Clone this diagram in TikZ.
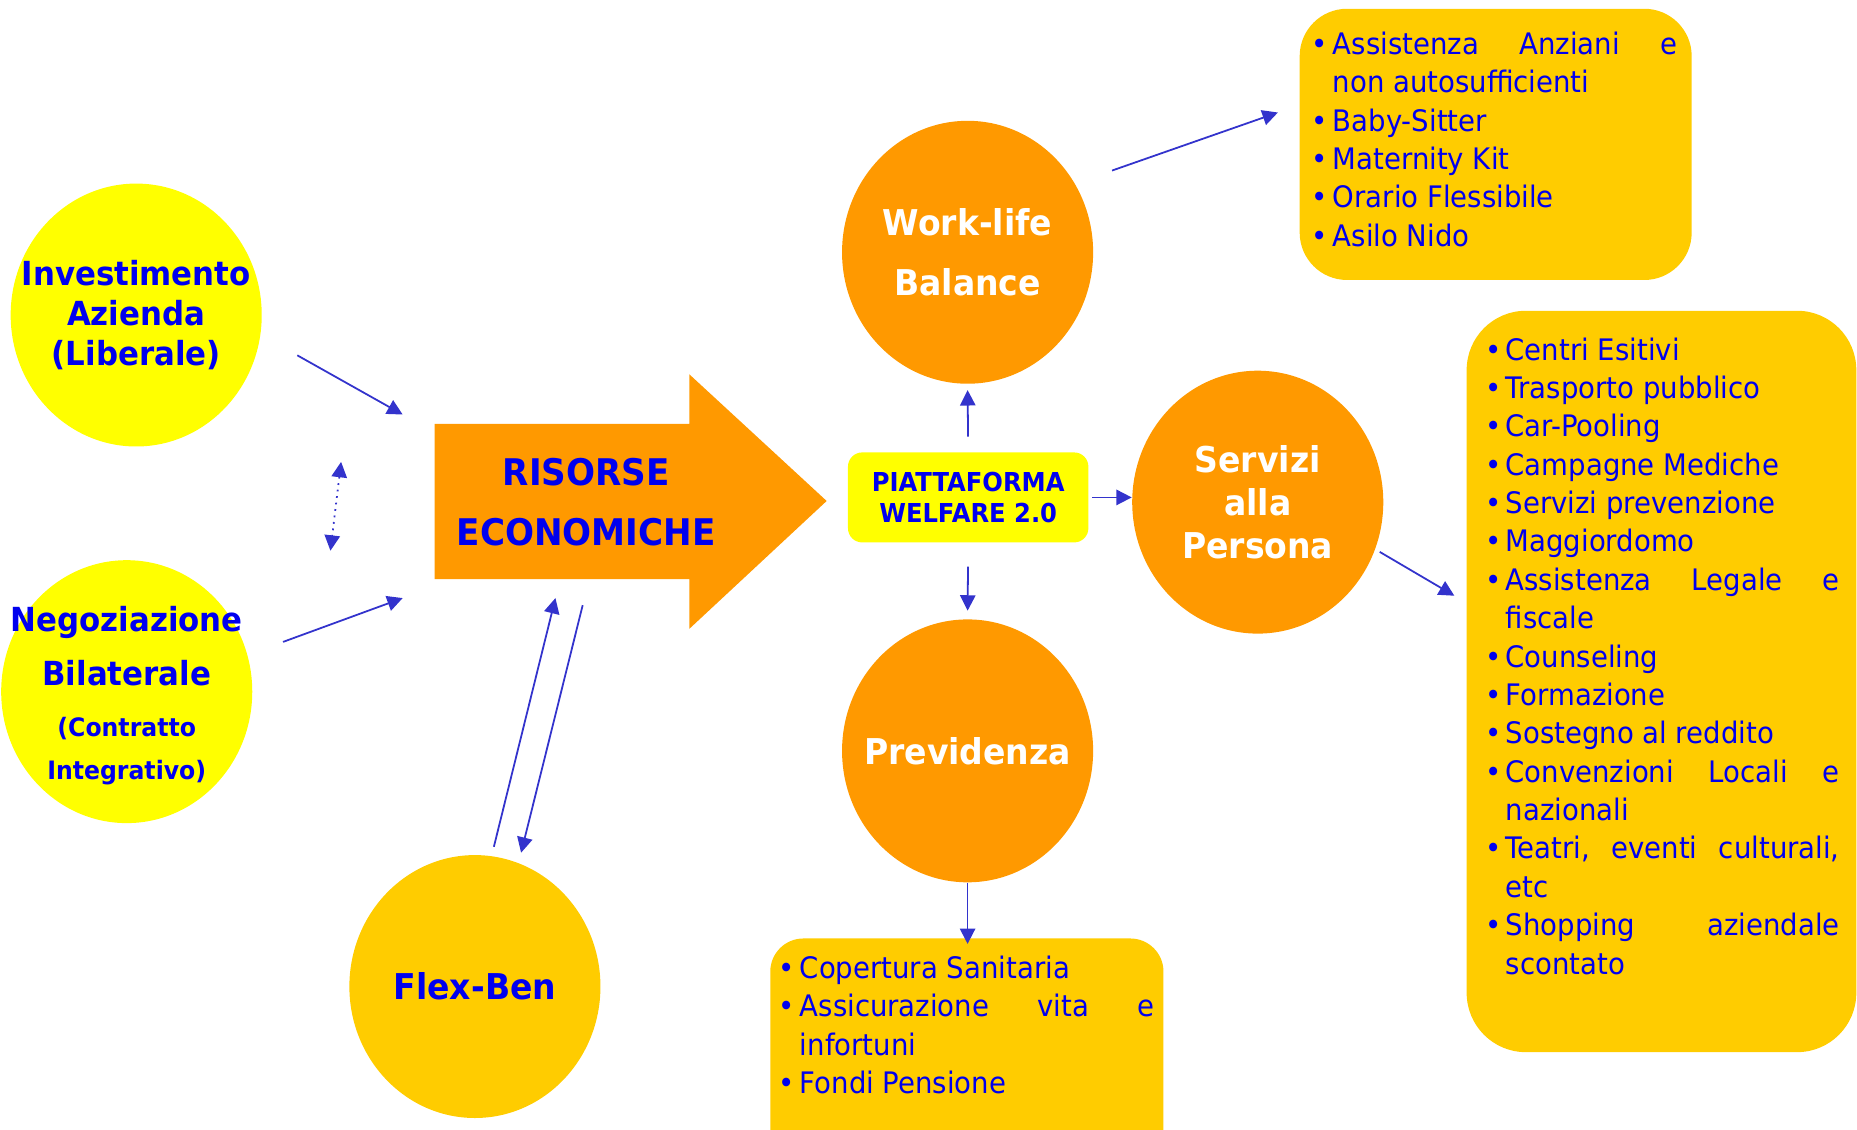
\documentclass[tikz,border=0pt]{standalone}
\usepackage{fontspec}
\setmainfont{DejaVu Sans}[FakeStretch=0.93]
\usetikzlibrary{shapes.geometric,arrows.meta}
\definecolor{cyel}{HTML}{FFFF00}
\definecolor{cgold}{HTML}{FFCC00}
\definecolor{corange}{HTML}{FF9900}
\definecolor{ctext}{HTML}{0000EE}
\definecolor{carrow}{HTML}{3333CC}
\newcommand\wbul[2]{\par\hangindent=#1\hangafter=1\noindent\strut\makebox[#1][l]{\textbullet}#2\par}
\begin{document}
\begin{tikzpicture}[x=0.5pt,y=-0.5pt,
  circ/.style={ellipse, inner sep=0pt, minimum width=106pt, minimum height=111pt},
  listbox/.style={rectangle, anchor=north west, inner sep=0pt, fill=cgold},
  listtext/.style={anchor=north west, inner sep=0pt, text=ctext},
  conn/.style={draw=carrow, line width=0.75pt, -{Triangle[length=6.5pt,width=6.5pt]}},
  ctr/.style={align=center, inner sep=0pt}]
\useasboundingbox (0,0) rectangle (1568,954);

% left circles
\node[circ, fill=cyel, label={[ctr, text=ctext, font=\bfseries\fontsize{14pt}{16.75pt}\selectfont]center:{Investimento\\Azienda\\(Liberale)}}] (inv) at (115,266) {};
\node[circ, fill=cyel, label={[ctr, yshift=-1.5pt, text=ctext, font=\bfseries\fontsize{14pt}{23pt}\selectfont]center:{Negoziazione\\Bilaterale\\[-1.5pt]{\fontsize{10.7pt}{18pt}\selectfont (Contratto}\\[-5pt]{\fontsize{10.7pt}{18pt}\selectfont Integrativo)}}}] (neg) at (107,584) {};
\node[circ, fill=cgold, label={[ctr, text=ctext, font=\bfseries\fontsize{15pt}{18pt}\selectfont]center:{Flex-Ben}}] (flex) at (401,833) {};

% big arrow
\fill[corange] (367,358) -- (582,358) -- (582,316) -- (698,423) -- (582,531) -- (582,489) -- (367,489) -- cycle;
\node[ctr, text=ctext, font=\bfseries\fontsize{15.5pt}{25pt}\selectfont] (res) at (495,424) {RISORSE\\ECONOMICHE};

% platform
\node[fill=cyel, rounded corners=6pt, minimum width=101.5pt, minimum height=38pt, inner sep=0pt, align=center, text=ctext, font=\bfseries\fontsize{11pt}{13pt}\selectfont] (pf) at (817.5,420) {PIATTAFORMA\\WELFARE 2.0};

% orange circles
\node[circ, fill=corange, label={[ctr, text=white, font=\bfseries\fontsize{15pt}{25pt}\selectfont]center:{Work-life\\Balance}}] (wl) at (817,213) {};
\node[circ, fill=corange, label={[ctr, text=white, font=\bfseries\fontsize{15pt}{18pt}\selectfont]center:{Servizi\\alla\\Persona}}] (sv) at (1062,424) {};
\node[circ, fill=corange, label={[ctr, text=white, font=\bfseries\fontsize{15pt}{18pt}\selectfont]center:{Previdenza}}] (pv) at (817,634) {};

% list boxes
\node[listbox, rounded corners=20pt, minimum width=165.5pt, minimum height=114.5pt] (wlbox) at (1097,7) {};
\node[listtext] (wltext) at (1107,22.8) {\begin{minipage}{154.5pt}\fontsize{12.5pt}{16.2pt}\selectfont
\wbul{9pt}{Assistenza\hfill Anziani\hfill e\newline non autosufficienti}
\wbul{9pt}{Baby-Sitter}
\wbul{9pt}{Maternity Kit}
\wbul{9pt}{Orario Flessibile}
\wbul{9pt}{Asilo Nido}
\end{minipage}};

\node[listbox, rounded corners=25pt, minimum width=164.5pt, minimum height=313pt] (svbox) at (1238,262) {};
\node[listtext] (svtext) at (1254,281) {\begin{minipage}{149.5pt}\fontsize{12.5pt}{16.2pt}\selectfont
\wbul{8.5pt}{Centri Esitivi}
\wbul{8.5pt}{Trasporto pubblico}
\wbul{8.5pt}{Car-Pooling}
\wbul{8.5pt}{Campagne Mediche}
\wbul{8.5pt}{Servizi prevenzione}
\wbul{8.5pt}{Maggiordomo}
\wbul{8.5pt}{Assistenza\hfill Legale\hfill e\newline fiscale}
\wbul{8.5pt}{Counseling}
\wbul{8.5pt}{Formazione}
\wbul{8.5pt}{Sostegno al reddito}
\wbul{8.5pt}{Convenzioni\hfill Locali\hfill e\newline nazionali}
\wbul{8.5pt}{Teatri,\hfill eventi\hfill culturali,\newline etc}
\wbul{8.5pt}{Shopping\hfill aziendale\newline scontato}
\end{minipage}};

\node[listbox, rounded corners=14pt, minimum width=166pt, minimum height=94pt] (pvbox) at (650,792) {};
\node[listtext] (pvtext) at (657,803) {\begin{minipage}{158.5pt}\fontsize{12.5pt}{16.2pt}\selectfont
\wbul{9pt}{Copertura Sanitaria}
\wbul{9pt}{Assicurazione\hfill vita\hfill e\newline infortuni}
\wbul{9pt}{Fondi Pensione}
\end{minipage}};

% connectors
\coordinate (invA) at (251,300); \coordinate (invB) at (340,350);
\coordinate (negA) at (239,542); \coordinate (negB) at (340,505);
\coordinate (dotA) at (288,390); \coordinate (dotB) at (279,465);
\coordinate (flA) at (417,715); \coordinate (flB) at (469,505);
\coordinate (flC) at (492,511); \coordinate (flD) at (440,720);
\coordinate (wlA) at (939,144); \coordinate (wlB) at (1079,95);
\coordinate (svA) at (1165,466); \coordinate (svB) at (1228,503);

\draw[conn] (invA) -- (invB);
\draw[conn] (negA) -- (negB);
\draw[conn, dotted, {Triangle[length=6.5pt,width=6.5pt]}-{Triangle[length=6.5pt,width=6.5pt]}] (dotA) -- (dotB);
\draw[conn] (flA) -- (flB);
\draw[conn] (flC) -- (flD);
\draw[conn, shorten <=6.5pt, shorten >=2.5pt] (pf.north) -- (wl.south);
\draw[conn, shorten <=1.5pt] (pf.east) -- (pf.east -| sv.west);
\draw[conn, shorten <=10pt, shorten >=3.5pt] (pf.south) -- (pv.north);
\draw[conn, shorten >=-2.5pt] (pv.south) -- (pv.south |- pvbox.north);
\draw[conn] (wlA) -- (wlB);
\draw[conn] (svA) -- (svB);
\end{tikzpicture}
\end{document}
